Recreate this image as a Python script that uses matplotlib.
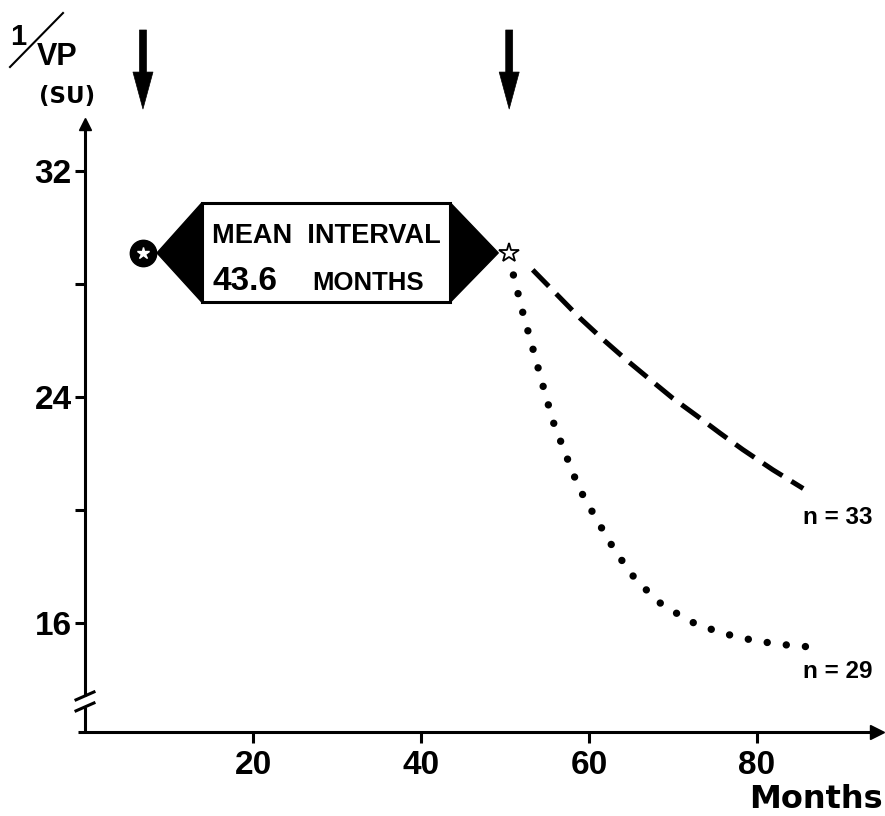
import numpy as np
import matplotlib
matplotlib.use("Agg")
import matplotlib.pyplot as plt
from matplotlib.patches import Rectangle, Polygon

# values
start_month = 6.9      # first arrow / filled marker
end_month = 50.5       # second arrow / open star
level = 29.1           # 1/VP at both markers

dashed_months = [53.3, 56.2, 58.9, 61.7, 64.5, 67.3, 70.0, 72.9, 75.6, 78.3, 81.9, 85.5]
dashed_vals = [28.5, 27.62, 26.80, 26.03, 25.30, 24.61, 23.95, 23.32, 22.72, 22.14, 21.42, 20.76]

dotted_months = [51.0, 52.1, 53.3, 54.5, 55.7, 57.3, 58.8, 60.8, 63.1, 65.5, 68.3, 71.9, 75.7, 79.9, 84.4, 86.7]
dotted_vals = [28.32, 27.01, 25.73, 24.42, 23.15, 21.91, 20.78, 19.72, 18.55, 17.56, 16.74, 16.07, 15.65, 15.36, 15.19, 15.15]

series_labels = ["n = 33", "n = 29"]
label_pos = [(85.5, 19.72), (85.5, 14.27)]

xticks = [20, 40, 60, 80]
yticks = [16, 20, 24, 28, 32]
ytick_labels = ["16", "", "24", "", "32"]

plt.rcParams['font.family'] = ['Liberation Sans', 'DejaVu Sans']

W, H = 885, 816
fig = plt.figure(figsize=(W / 100, H / 100), dpi=100)

# axes placed in pixels: month 0 at x=85, 8.4 px per month; 16 at y=623, 28.25 px per unit
ax = fig.add_axes([85 / W, 1 - 732 / H, 792 / W, 608 / H])
xmax = 792 / 8.4
ymin = 16 - (732 - 623) / 28.25
ymax = 16 + (623 - 124) / 28.25
ax.set_xlim(0, xmax)
ax.set_ylim(ymin, ymax)
for s in ax.spines.values():
    s.set_visible(False)

# axis lines with arrows and a break on the y axis
lw_ax = 2.2
ax.plot([-0.8, xmax], [ymin, ymin], color='black', lw=lw_ax, clip_on=False, solid_capstyle='butt')
ax.plot(xmax, ymin, '>', color='black', ms=10, clip_on=False)
brk_lo, brk_hi = 13.03, 13.42
ax.plot([0, 0], [ymin, brk_lo], color='black', lw=lw_ax, clip_on=False, solid_capstyle='butt')
ax.plot([0, 0], [brk_hi, ymax], color='black', lw=lw_ax, clip_on=False, solid_capstyle='butt')
ax.plot(0, ymax, '^', color='black', ms=9, clip_on=False)
for yc in (brk_lo, brk_hi):
    ax.plot([-1.07, 1.07], [yc - 0.14, yc + 0.14], color='black', lw=lw_ax, clip_on=False)

ax.set_xticks(xticks)
ax.set_xticklabels([str(t) for t in xticks])
ax.set_yticks(yticks)
ax.set_yticklabels(ytick_labels)
ax.tick_params(axis='x', direction='out', length=8, width=lw_ax, pad=5, labelsize=24)
ax.tick_params(axis='y', direction='out', length=7.2, width=lw_ax, pad=2.5, labelsize=24)
for lab in ax.get_xticklabels() + ax.get_yticklabels():
    lab.set_fontweight('bold')

# curves
ax.plot(dashed_months, dashed_vals, color='black', lw=3.6, dashes=(4.6, 2.1),
        dash_capstyle='butt', clip_on=False)
ax.plot(dotted_months, dotted_vals, color='black', lw=5.3, linestyle=(0, (0.01, 2.6)),
        dash_capstyle='round', clip_on=False)
for lab, (x, y) in zip(series_labels, label_pos):
    ax.text(x, y, lab, fontsize=17.5, fontweight='bold', ha='left', va='center')

# interval box between the two markers
bx0, bx1 = 13.9, 43.5
by0, by1 = 27.36, 30.87
ax.add_patch(Polygon([(bx0, by1), (bx0, by0), (8.57, level)], closed=True, fc='black', ec='black', lw=1, zorder=3))
ax.add_patch(Polygon([(bx1, by1), (bx1, by0), (49.2, level)], closed=True, fc='black', ec='black', lw=1, zorder=3))
ax.add_patch(Rectangle((bx0, by0), bx1 - bx0, by1 - by0, fc='white', ec='black', lw=2.2, zorder=4))
ax.text((bx0 + bx1) / 2, 29.45, "MEAN  INTERVAL", fontsize=19.5, fontweight='bold',
        ha='center', va='baseline', zorder=5)
ax.text(15.2, 27.79, "43.6", fontsize=24, fontweight='bold', ha='left', va='baseline', zorder=5)
ax.text(27.0, 27.79, "MONTHS", fontsize=18.5, fontweight='bold', ha='left', va='baseline', zorder=5)

ax.plot(start_month, level, 'o', color='black', ms=19, zorder=6, clip_on=False)
ax.plot(start_month, level, '*', color='white', ms=9, zorder=7, clip_on=False)
ax.plot(end_month, level, '*', mfc='white', mec='black', mew=1.3, ms=15, zorder=6, clip_on=False)

# downward arrows above the plot
for m in (start_month, end_month):
    ax.annotate('', xy=(m, 1 - 109 / H), xycoords=('data', 'figure fraction'),
                xytext=(m, 1 - 30 / H), textcoords=('data', 'figure fraction'),
                arrowprops=dict(arrowstyle='simple,head_length=1.33,head_width=0.72,tail_width=0.25',
                                fc='black', ec='black', lw=0.5, shrinkA=0, shrinkB=0,
                                mutation_scale=20),
                annotation_clip=False)

# y label 1/VP (SU)
fig.text(18 / W, 1 - 45 / H, "1", fontsize=21, fontweight='bold', ha='center', va='baseline')
fig.add_artist(plt.Line2D([10 / W, 63 / W], [1 - 67 / H, 1 - 13 / H], color='black', lw=1.5))
fig.text(37 / W, 1 - 65 / H, "VP", fontsize=22, fontweight='bold', ha='left', va='baseline')
fig.text(67 / W, 1 - 96 / H, "(SU)", fontsize=16.5, fontweight='bold', family='DejaVu Sans',
         ha='center', va='center')

# x label
fig.text(883 / W, 1 / H, "Months", fontsize=23, fontweight='bold', family='DejaVu Sans',
         ha='right', va='bottom')

fig.savefig("out.png", dpi=100)
